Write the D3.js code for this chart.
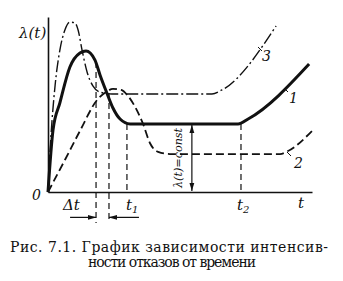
<!DOCTYPE html>
<html>
<head>
<meta charset="utf-8">
<script src="https://cdn.jsdelivr.net/npm/d3@7"></script>
<style>
  body { margin: 0; background: #fff; }
  svg text { font-family: "DejaVu Serif", "Liberation Serif", "Times New Roman", serif; fill: #111; }
</style>
</head>
<body>
<div id="chart"></div>
<script>
// curve points: t (time) and lambda (failure rate), arbitrary units
var t1Curve = [0, 0.19, 0.45, 0.83, 1.21, 1.44, 1.78, 1.97, 2.23, 2.46, 2.73, 3.11, 7.20, 7.58, 9.89];
var l1Curve = [0, 3.54, 5.09, 7.14, 7.94, 8.06, 7.54, 6.69, 5.66, 4.80, 4.17, 3.89, 3.89, 4.17, 7.31];

var t2Curve = [0, 0.64, 1.21, 1.86, 2.2, 2.46, 2.77, 3.03, 3.30, 3.60, 3.86, 4.17, 4.62, 8.79, 9.09, 10];
var l2Curve = [0, 1.83, 3.49, 5.26, 5.71, 5.89, 5.83, 5.49, 4.86, 3.89, 2.8, 2.29, 2.17, 2.17, 2.34, 3.49];

var t3Curve = [0, 0.08, 0.27, 0.45, 0.64, 0.83, 1.02, 1.14, 1.29, 1.48, 1.70, 1.97, 2.42, 6.21, 6.59, 8.64];
var l3Curve = [0, 2.4, 6.11, 8.11, 9.26, 9.71, 9.66, 9.26, 8.11, 6.86, 6.06, 5.71, 5.6, 5.6, 5.83, 9.49];

// guide lines: Δt pair, t1, t2
var guideT   = [1.82, 2.31, 2.99, 7.31];
var guideTop = [7.43, 5.66, 3.89, 3.89];
var guideBot = [-1.77, -1.77, 0, 0];

var constLevel = 3.89;   // λ(t)=const level
var constAt = 5.45;      // where the const arrow stands

var tickLabels = ["Δt", "t", "t"];
var caption = ["Рис. 7.1. График зависимости интенсив-", "ности отказов от времени"];

var W = 343, H = 281;
var svg = d3.select("#chart").append("svg")
  .attr("width", W).attr("height", H);
svg.append("rect").attr("width", W).attr("height", H).attr("fill", "#fff");

var x = d3.scaleLinear().domain([0, 10]).range([48, 312]);
var y = d3.scaleLinear().domain([0, 10]).range([192, 17]);

// axes (plain lines, no ticks)
var xAxis = d3.axisBottom(x).tickValues([]).tickSizeOuter(0);
var yAxis = d3.axisLeft(y).tickValues([]).tickSizeOuter(0);
svg.append("g").attr("transform", "translate(0,192)").call(xAxis)
  .select(".domain").attr("stroke", "#111").attr("stroke-width", 1.6);
svg.append("g").attr("transform", "translate(48,0)").call(yAxis)
  .select(".domain").attr("stroke", "#111").attr("stroke-width", 1.6);

// guides
guideT.forEach(function(t, i) {
  svg.append("line")
    .attr("x1", x(t)).attr("x2", x(t))
    .attr("y1", y(guideTop[i])).attr("y2", y(guideBot[i]))
    .attr("stroke", "#111").attr("stroke-width", 1.2)
    .attr("stroke-dasharray", "6,4");
});

var line = d3.line().x(d => x(d[0])).y(d => y(d[1])).curve(d3.curveMonotoneX);
function pts(ts, ls) { return ts.map((t, i) => [t, ls[i]]); }

svg.append("path").attr("d", line(pts(t3Curve, l3Curve)))
  .attr("fill", "none").attr("stroke", "#111").attr("stroke-width", 1.4)
  .attr("stroke-dasharray", "12,3,2,3");
svg.append("path").attr("d", line(pts(t2Curve, l2Curve)))
  .attr("fill", "none").attr("stroke", "#111").attr("stroke-width", 1.8)
  .attr("stroke-dasharray", "8,4");
svg.append("path").attr("d", line(pts(t1Curve, l1Curve)))
  .attr("fill", "none").attr("stroke", "#111").attr("stroke-width", 3)
  .attr("stroke-linejoin", "round");

// arrow heads
var defs = svg.append("defs");
defs.append("marker").attr("id", "ah")
  .attr("viewBox", "0 0 10 10").attr("refX", 10).attr("refY", 5)
  .attr("markerWidth", 7).attr("markerHeight", 7).attr("orient", "auto-start-reverse")
  .append("path").attr("d", "M0,2 L10,5 L0,8 Z").attr("fill", "#111");

// Δt arrows
var ay = y(-1.45);
svg.append("line").attr("x1", x(guideT[0]) - 26).attr("x2", x(guideT[0]))
  .attr("y1", ay).attr("y2", ay).attr("stroke", "#111").attr("stroke-width", 1.2)
  .attr("marker-end", "url(#ah)");
svg.append("line").attr("x1", x(guideT[1]) + 30).attr("x2", x(guideT[1]))
  .attr("y1", ay).attr("y2", ay).attr("stroke", "#111").attr("stroke-width", 1.2)
  .attr("marker-end", "url(#ah)");

// const arrow
svg.append("line").attr("x1", x(constAt)).attr("x2", x(constAt))
  .attr("y1", y(constLevel) + 1).attr("y2", y(0) - 1)
  .attr("stroke", "#111").attr("stroke-width", 1.2)
  .attr("marker-start", "url(#ah)").attr("marker-end", "url(#ah)");
svg.append("text")
  .attr("transform", `translate(${x(constAt) - 10},${(y(constLevel) + y(0)) / 2}) rotate(-90)`)
  .attr("text-anchor", "middle").attr("font-size", 11.5).attr("font-style", "italic")
  .attr("textLength", 60).attr("lengthAdjust", "spacingAndGlyphs")
  .text("λ(t)=const");

// axis labels
svg.append("text").attr("x", 19).attr("y", 38).attr("font-size", 15).attr("font-style", "italic").text("λ(t)");
svg.append("text").attr("x", 32).attr("y", 200).attr("font-size", 14).attr("font-style", "italic").text("0");
svg.append("text").attr("x", 298).attr("y", 208).attr("font-size", 15).attr("font-style", "italic").text("t");

// tick labels under the axis
svg.append("text").attr("x", 63).attr("y", 210).attr("font-size", 15).attr("font-style", "italic").text(tickLabels[0]);
var t1l = svg.append("text").attr("x", x(guideT[2]) - 1).attr("y", 210).attr("font-size", 15).attr("font-style", "italic").text(tickLabels[1]);
t1l.append("tspan").attr("dy", 3).attr("font-size", 10).text("1");
var t2l = svg.append("text").attr("x", x(guideT[3]) - 4).attr("y", 210).attr("font-size", 15).attr("font-style", "italic").text(tickLabels[2]);
t2l.append("tspan").attr("dy", 3).attr("font-size", 10).text("2");

// curve numbers with leader ticks
var nums = [["1", 289, 103, 284, 88, 288, 92], ["2", 294, 168, 287, 152, 291, 156], ["3", 262, 61, 258, 47, 262, 51]];
nums.forEach(function(n) {
  svg.append("text").attr("x", n[1]).attr("y", n[2]).attr("font-size", 14).attr("font-style", "italic").text(n[0]);
  svg.append("line").attr("x1", n[3]).attr("y1", n[4]).attr("x2", n[5]).attr("y2", n[6])
    .attr("stroke", "#111").attr("stroke-width", 1);
});

// caption
svg.append("text").attr("x", 10).attr("y", 252).attr("font-size", 14)
  .attr("textLength", 318).attr("lengthAdjust", "spacing").text(caption[0]);
svg.append("text").attr("x", 88).attr("y", 267).attr("font-size", 14)
  .attr("textLength", 168).attr("lengthAdjust", "spacing").text(caption[1]);
</script>
</body>
</html>
